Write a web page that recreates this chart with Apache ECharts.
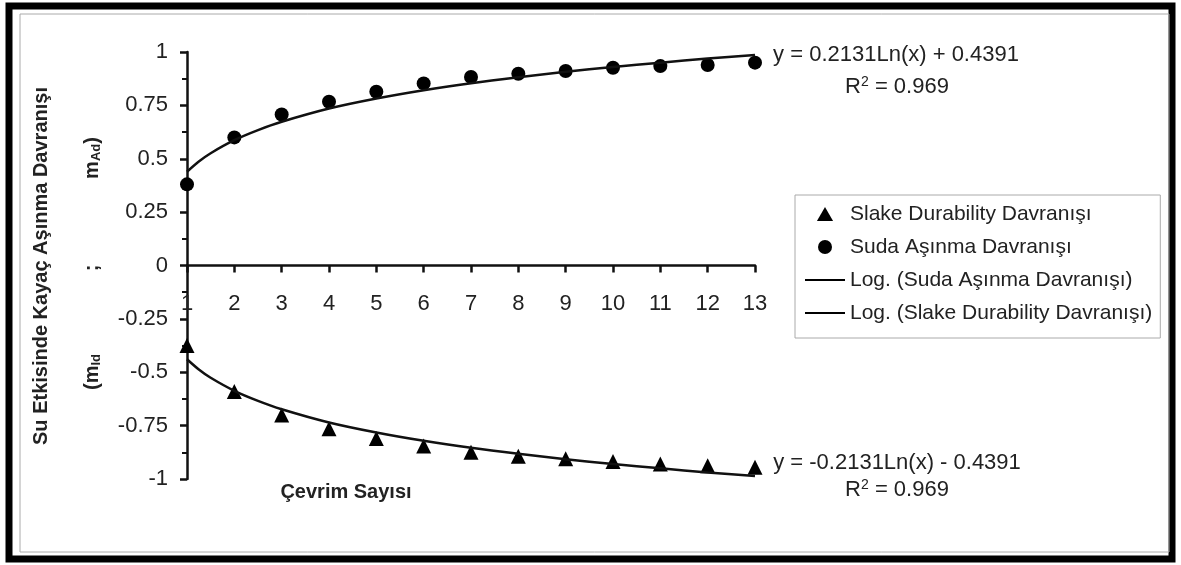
<!DOCTYPE html>
<html lang="tr">
<head>
<meta charset="UTF-8">
<title>Çevrim Sayısı - Aşınma Davranışı</title>
<script src="https://cdn.jsdelivr.net/npm/echarts@6/dist/echarts.min.js"></script>
<style>
  html,body{margin:0;height:100%;background:#fff;}
  #chart{width:1181px;height:565px;}
</style>
</head>
<body>
<div id="chart"></div>
<script>
const cycles = [1,2,3,4,5,6,7,8,9,10,11,12,13];
const sudaVals  = [0.38,0.60,0.707,0.767,0.814,0.853,0.883,0.898,0.911,0.926,0.934,0.939,0.95];
const slakeVals = [-0.375,-0.59,-0.70,-0.765,-0.81,-0.845,-0.875,-0.893,-0.905,-0.918,-0.93,-0.938,-0.945];
// log trend lines
const trendX    = [1,1.25,1.5,2,2.5,3,4,5,6,7,8,9,10,11,12,13];
const trendUp   = [0.439,0.487,0.526,0.587,0.634,0.673,0.735,0.782,0.821,0.854,0.882,0.907,0.930,0.950,0.969,0.986];
const trendDown = [-0.439,-0.487,-0.526,-0.587,-0.634,-0.673,-0.735,-0.782,-0.821,-0.854,-0.882,-0.907,-0.930,-0.950,-0.969,-0.986];
const yTicks = [-1,-0.75,-0.5,-0.25,0,0.25,0.5,0.75,1];

const names = ['Slake Durability Davranışı','Suda Aşınma Davranışı','Log. (Suda Aşınma Davranışı)','Log. (Slake Durability Davranışı)'];
const font = '"Liberation Sans", Arial, sans-serif';
const pair = (xs, ys) => xs.map((x,i)=>[x, ys[i]]);
const lineIcon = 'path://M0,0H40V2.2H0Z';
const triIcon = 'path://M7.5,0L15,13H0Z';

const gridTop = 52, gridBottom = 86, H = 565;
// x axis sits on y = 0, half way down the plot
const zeroShift = -(H - gridTop - gridBottom) / 2;

const chart = echarts.init(document.getElementById('chart'));
chart.setOption({
  animation:false,
  textStyle:{fontFamily:font,color:'#111'},
  grid:{left:187,right:426,top:gridTop,bottom:gridBottom},
  xAxis:{
    type:'value',min:1,max:13,interval:1,position:'bottom',offset:zeroShift,
    axisLine:{onZero:false,lineStyle:{color:'#111',width:2.5}},
    axisTick:{length:7,lineStyle:{color:'#111',width:2.5}},
    axisLabel:{fontSize:22,color:'#222',margin:27,fontFamily:font},
    splitLine:{show:false}
  },
  yAxis:{
    type:'value',min:-1,max:1,interval:0.25,
    axisLine:{show:true,lineStyle:{color:'#111',width:2.5}},
    axisTick:{show:true,length:7,lineStyle:{color:'#111',width:2.5}},
    minorTick:{show:true,splitNumber:2,length:5,lineStyle:{color:'#111',width:2}},
    axisLabel:{fontSize:22,color:'#222',margin:19,fontFamily:font,
      formatter:v=>yTicks.includes(v)?String(v):''},
    splitLine:{show:false}
  },
  legend:{
    orient:'vertical',left:795,top:195,
    padding:[8,8,14,10],itemGap:11,itemWidth:40,itemHeight:14,
    symbolKeepAspect:true,
    borderColor:'#aaa',borderWidth:1,
    textStyle:{fontSize:21,color:'#222',fontFamily:font,lineHeight:22},
    data:[
      {name:names[0],icon:triIcon},
      {name:names[1],icon:'circle'},
      {name:names[2],icon:lineIcon},
      {name:names[3],icon:lineIcon}
    ]
  },
  series:[
    {name:names[0],type:'scatter',symbol:'triangle',symbolSize:15,
      itemStyle:{color:'#000',opacity:1},data:pair(cycles,slakeVals),z:3},
    {name:names[1],type:'scatter',symbol:'circle',symbolSize:14,
      itemStyle:{color:'#000',opacity:1},data:pair(cycles,sudaVals),z:3},
    {name:names[2],type:'line',smooth:0.3,showSymbol:false,
      itemStyle:{color:'#000'},lineStyle:{color:'#111',width:2.5},data:pair(trendX,trendUp),z:4},
    {name:names[3],type:'line',smooth:0.3,showSymbol:false,
      itemStyle:{color:'#000'},lineStyle:{color:'#111',width:2.5},data:pair(trendX,trendDown),z:4}
  ],
  graphic:[
    {type:'rect',silent:true,z:-1,shape:{x:9,y:6,width:1163,height:553},
      style:{fill:'none',stroke:'#000',lineWidth:7}},
    {type:'rect',silent:true,z:-1,shape:{x:20,y:14,width:1149,height:538},
      style:{fill:'none',stroke:'#aaa',lineWidth:1}},
    // y axis title
    {type:'text',x:41,y:266,rotation:Math.PI/2,
      style:{text:'Su Etkisinde Kayaç Aşınma Davranışı',font:'bold 20px '+font,fill:'#222',
        align:'center',verticalAlign:'middle'}},
    {type:'text',x:92,y:372,rotation:Math.PI/2,
      style:{text:'{b|(m}{s|Id}',align:'center',verticalAlign:'middle',
        rich:{b:{font:'bold 20px '+font,fill:'#222'},s:{font:'bold 13px '+font,fill:'#222',padding:[8,0,0,0]}}}},
    {type:'text',x:92,y:268,rotation:Math.PI/2,
      style:{text:';',font:'bold 20px '+font,fill:'#222',align:'center',verticalAlign:'middle'}},
    {type:'text',x:92,y:158,rotation:Math.PI/2,
      style:{text:'{b|m}{s|Ad}{b|)}',align:'center',verticalAlign:'middle',
        rich:{b:{font:'bold 20px '+font,fill:'#222'},s:{font:'bold 13px '+font,fill:'#222',padding:[8,0,0,0]}}}},
    // x axis title
    {type:'text',x:346,y:492,
      style:{text:'Çevrim Sayısı',font:'bold 20px '+font,fill:'#222',align:'center',verticalAlign:'middle'}},
    // trend equations
    {type:'text',x:896,y:55,
      style:{text:'y = 0.2131Ln(x) + 0.4391',font:'22px '+font,fill:'#222',align:'center',verticalAlign:'middle'}},
    {type:'text',x:897,y:87,
      style:{text:'{a|R}{s|2}{a| = 0.969}',align:'center',verticalAlign:'middle',
        rich:{a:{font:'22px '+font,fill:'#222'},s:{font:'14px '+font,fill:'#222',padding:[0,0,10,0]}}}},
    {type:'text',x:897,y:463,
      style:{text:'y = -0.2131Ln(x) - 0.4391',font:'22px '+font,fill:'#222',align:'center',verticalAlign:'middle'}},
    {type:'text',x:897,y:490,
      style:{text:'{a|R}{s|2}{a| = 0.969}',align:'center',verticalAlign:'middle',
        rich:{a:{font:'22px '+font,fill:'#222'},s:{font:'14px '+font,fill:'#222',padding:[0,0,10,0]}}}}
  ]
});
</script>
</body>
</html>
